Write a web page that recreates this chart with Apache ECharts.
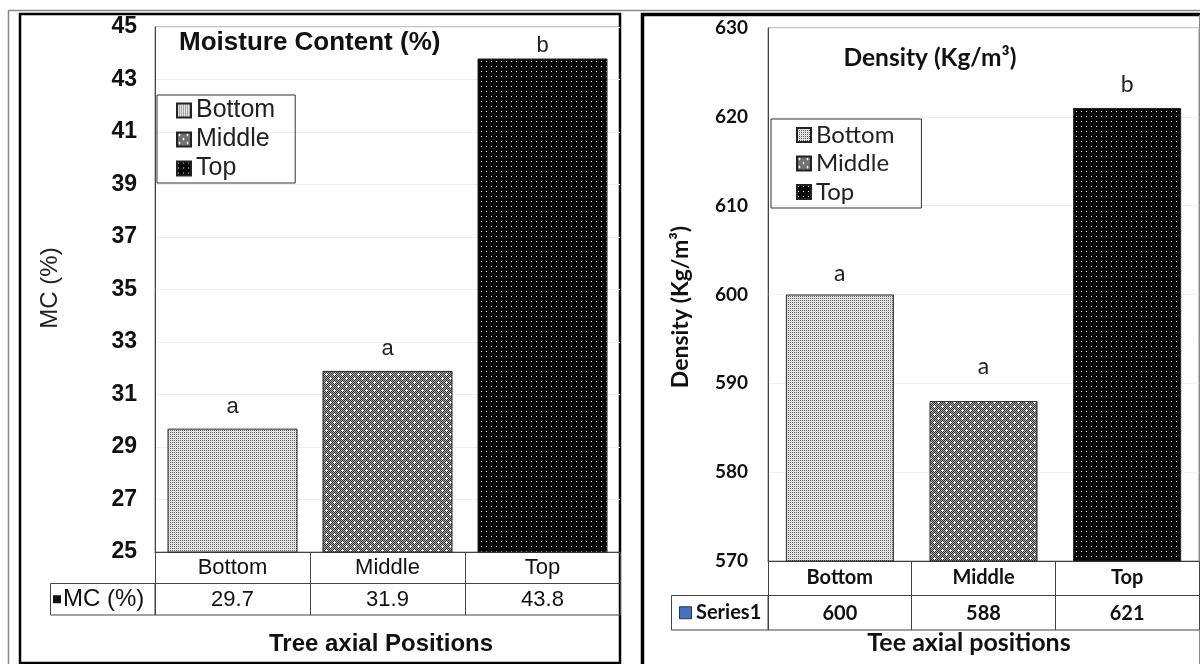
<!DOCTYPE html>
<html>
<head>
<meta charset="utf-8">
<script src="https://cdn.jsdelivr.net/npm/echarts@6/dist/echarts.min.js"></script>
<style>html,body{margin:0;padding:0;background:#fff}#c{width:1200px;height:664px}</style>
</head>
<body>
<div id="c"></div>
<script>
// ---- data ----
const categories = ['Bottom', 'Middle', 'Top'];
const mcValues = [29.7, 31.9, 43.8];
const mcLetters = ['a', 'a', 'b'];
const densityValues = [600, 588, 621];
const densityLetters = ['a', 'a', 'b'];
const mcAxis = { min: 25, max: 45, interval: 2 };
const densityAxis = { min: 570, max: 630, interval: 10 };
const mcTableName = 'MC (%)';
const densityTableName = 'Series1';

// ---- layout ----
const LG = { left: 155, top: 27, right: 620, bottom: 552, row: 31.5 };
const RG = { left: 768, top: 28, right: 1199, bottom: 561, row: 34.5 };
const FL = 'Liberation Sans';
const FR = 'Lato';

function makePattern(kind) {
  const c = document.createElement('canvas');
  let w, h;
  if (kind === 'light') { w = 2; h = 2; }
  else if (kind === 'mid') { w = 8; h = 8; }
  else { w = 5; h = 5; }
  c.width = w; c.height = h;
  const ctx = c.getContext('2d');
  for (let y = 0; y < h; y++) {
    for (let x = 0; x < w; x++) {
      let col;
      if (kind === 'light') col = (x === 0 && y === 0) ? '#5a5a5a' : ((x + y) % 2 === 0 ? '#d4d4d4' : '#f0f0f0');
      else if (kind === 'mid') col = (x + y) % 2 === 0 ? '#303030' : '#b0b0b0';
      else col = '#050505';
      ctx.fillStyle = col; ctx.fillRect(x, y, 1, 1);
    }
  }
  ctx.fillStyle = '#ffffff';
  if (kind === 'mid') {
    [[2, 2], [6, 6]].forEach(([x, y]) => { ctx.fillRect(x, y, 1, 1); ctx.fillRect(x - 1, y, 3, 1); ctx.fillRect(x, y - 1, 1, 3); });
  } else if (kind === 'dark') {
    ctx.fillRect(1, 1, 1, 1);
  }
  return { image: c, repeat: 'repeat' };
}
const patterns = [makePattern('light'), makePattern('mid'), makePattern('dark')];

function seriesFor(values, letters, font, fontSize, barWidth, distances, xIdx, yIdx) {
  return categories.map((name, i) => ({
    name: name,
    type: 'bar',
    xAxisIndex: xIdx,
    yAxisIndex: yIdx,
    barWidth: barWidth,
    barGap: '-100%',
    data: categories.map((c, j) => (j === i ? values[j] : '-')),
    itemStyle: { color: patterns[i], borderColor: '#222', borderWidth: 1 },
    label: {
      show: true, position: 'top', distance: distances[i],
      formatter: letters[i],
      fontFamily: font, fontSize: fontSize, color: '#222'
    },
    emphasis: { disabled: true },
    silent: true
  }));
}

const chart = echarts.init(document.getElementById('c'), null, { renderer: 'canvas' });

const option = {
  animation: false,
  backgroundColor: '#fff',
  grid: [
    { left: LG.left, top: LG.top, width: LG.right - LG.left, height: LG.bottom - LG.top,
      show: true, borderColor: '#8a8a8a', borderWidth: 1 },
    { left: RG.left, top: RG.top, width: RG.right - RG.left, height: RG.bottom - RG.top,
      show: true, borderColor: '#8a8a8a', borderWidth: 1 }
  ],
  xAxis: [
    { type: 'category', gridIndex: 0, data: categories, position: 'bottom',
      axisLine: { lineStyle: { color: '#444', width: 1 } },
      axisTick: { show: true, length: LG.row * 2, lineStyle: { color: '#444' } },
      axisLabel: { fontFamily: FL, fontSize: 22, color: '#111', margin: 5 } },
    { type: 'category', gridIndex: 0, data: mcValues.map(v => v.toFixed(1)), position: 'bottom', offset: LG.row,
      axisLine: { lineStyle: { color: '#444', width: 1 } },
      axisTick: { show: false },
      axisLabel: { fontFamily: FL, fontSize: 22, color: '#111', margin: 5 } },
    { type: 'category', gridIndex: 1, data: categories, position: 'bottom',
      axisLine: { lineStyle: { color: '#444', width: 1 } },
      axisTick: { show: true, length: RG.row * 2, lineStyle: { color: '#444' } },
      axisLabel: { fontFamily: FR, fontSize: 20, fontWeight: 'bold', color: '#111', margin: 7 } },
    { type: 'category', gridIndex: 1, data: densityValues.map(v => String(v)), position: 'bottom', offset: RG.row,
      axisLine: { lineStyle: { color: '#444', width: 1 } },
      axisTick: { show: false },
      axisLabel: { fontFamily: FR, fontSize: 20, fontWeight: 'bold', color: '#111', margin: 8 } }
  ],
  yAxis: [
    { type: 'value', gridIndex: 0, min: mcAxis.min, max: mcAxis.max, interval: mcAxis.interval,
      axisLine: { show: true, lineStyle: { color: '#444' } },
      axisTick: { show: false },
      splitLine: { lineStyle: { color: '#efefef' } },
      axisLabel: { fontFamily: FL, fontSize: 23, fontWeight: 'bold', color: '#111', margin: 18 } },
    { type: 'value', gridIndex: 1, min: densityAxis.min, max: densityAxis.max, interval: densityAxis.interval,
      axisLine: { show: true, lineStyle: { color: '#444' } },
      axisTick: { show: false },
      splitLine: { lineStyle: { color: '#efefef' } },
      axisLabel: { fontFamily: FR, fontSize: 19, fontWeight: 'bold', color: '#111', margin: 20 } }
  ],
  legend: [
    { data: categories, left: 157, top: 95, orient: 'vertical', icon: 'rect',
      itemWidth: 14, itemHeight: 14, itemGap: 4, padding: [3, 20, 2, 19],
      borderColor: '#333', borderWidth: 1, selectedMode: false,
      textStyle: { fontFamily: FL, fontSize: 25, color: '#222', lineHeight: 24 } },
    { data: categories, left: 771, top: 119, orient: 'vertical', icon: 'rect',
      itemWidth: 14, itemHeight: 14, itemGap: 4.5, padding: [4, 27, 4, 25],
      borderColor: '#333', borderWidth: 1, selectedMode: false,
      textStyle: { fontFamily: FR, fontSize: 24, color: '#222', lineHeight: 24 } }
  ],
  series: [
    ...seriesFor(mcValues, mcLetters, FL, 22, 130, [11, 11, 2], 0, 0),
    ...seriesFor(densityValues, densityLetters, FR, 23, 108, [9, 23, 12], 2, 1)
  ],
  graphic: [
    // outer frames
    { type: 'line', shape: { x1: 8, y1: 10.5, x2: 1200, y2: 10.5 }, style: { stroke: '#8a8a8a', lineWidth: 1.5 }, silent: true },
    { type: 'line', shape: { x1: 8.5, y1: 10, x2: 8.5, y2: 664 }, style: { stroke: '#8a8a8a', lineWidth: 1.5 }, silent: true },
    { type: 'rect', shape: { x: 20, y: 14, width: 600, height: 649 }, style: { fill: 'none', stroke: '#000', lineWidth: 2.5 }, silent: true },
    { type: 'polyline', shape: { points: [[642.5, 664], [642.5, 14.5], [1200, 14.5]] }, style: { fill: 'none', stroke: '#000', lineWidth: 3.5 }, silent: true },
    { type: 'line', shape: { x1: 1199.5, y1: 15, x2: 1199.5, y2: 664 }, style: { stroke: '#8a8a8a', lineWidth: 1 }, silent: true },
    // left table
    { type: 'rect', shape: { x: 50.5, y: LG.bottom + LG.row, width: LG.left - 50.5, height: LG.row }, style: { fill: 'none', stroke: '#444', lineWidth: 1 }, silent: true },
    { type: 'line', shape: { x1: LG.left, y1: LG.bottom + LG.row * 2, x2: LG.right, y2: LG.bottom + LG.row * 2 }, style: { stroke: '#444', lineWidth: 1 }, silent: true },
    { type: 'rect', shape: { x: 53, y: LG.bottom + LG.row * 1.5 - 4, width: 8, height: 8 }, style: { fill: '#111' }, silent: true },
    { type: 'text', x: 63, y: LG.bottom + LG.row * 1.5, style: { text: mcTableName, fontFamily: FL, fontSize: 24, fill: '#111', verticalAlign: 'middle', align: 'left' }, silent: true },
    // right table
    { type: 'rect', shape: { x: 671.5, y: RG.bottom + RG.row, width: RG.left - 671.5, height: RG.row }, style: { fill: 'none', stroke: '#444', lineWidth: 1 }, silent: true },
    { type: 'line', shape: { x1: RG.left, y1: RG.bottom + RG.row * 2, x2: RG.right, y2: RG.bottom + RG.row * 2 }, style: { stroke: '#444', lineWidth: 1 }, silent: true },
    { type: 'rect', shape: { x: 679.5, y: RG.bottom + RG.row * 1.5 - 6, width: 12, height: 12 }, style: { fill: '#4472C4', stroke: '#333', lineWidth: 1 }, silent: true },
    { type: 'text', x: 696, y: RG.bottom + RG.row * 1.5, style: { text: densityTableName, fontFamily: FR, fontSize: 20, fontWeight: 'bold', fill: '#111', verticalAlign: 'middle', align: 'left' }, silent: true },
    // chart titles
    { type: 'text', x: 179, y: 43, style: { text: 'Moisture Content (%)', fontFamily: FL, fontSize: 26, fontWeight: 'bold', fill: '#111', verticalAlign: 'middle', align: 'left' }, silent: true },
    { type: 'text', x: 930, y: 58, style: { text: 'Density (Kg/m³)', fontFamily: FR, fontSize: 24.5, fontWeight: 'bold', fill: '#111', verticalAlign: 'middle', align: 'center' }, silent: true },
    // axis titles
    { type: 'text', x: 381, y: 644, style: { text: 'Tree axial Positions', fontFamily: FL, fontSize: 24, fontWeight: 'bold', fill: '#111', verticalAlign: 'middle', align: 'center' }, silent: true },
    { type: 'text', x: 969, y: 643, style: { text: 'Tee axial positions', fontFamily: FR, fontSize: 25, fontWeight: 'bold', fill: '#111', verticalAlign: 'middle', align: 'center' }, silent: true },
    { type: 'text', x: 50, y: 288, rotation: Math.PI / 2, style: { text: 'MC (%)', fontFamily: FL, fontSize: 24, fill: '#222', verticalAlign: 'middle', align: 'center' }, silent: true },
    { type: 'text', x: 681, y: 307, rotation: Math.PI / 2, style: { text: 'Density (Kg/m³)', fontFamily: FR, fontSize: 23, fontWeight: 'bold', fill: '#111', verticalAlign: 'middle', align: 'center' }, silent: true }
  ]
};
chart.setOption(option);
</script>
</body>
</html>
